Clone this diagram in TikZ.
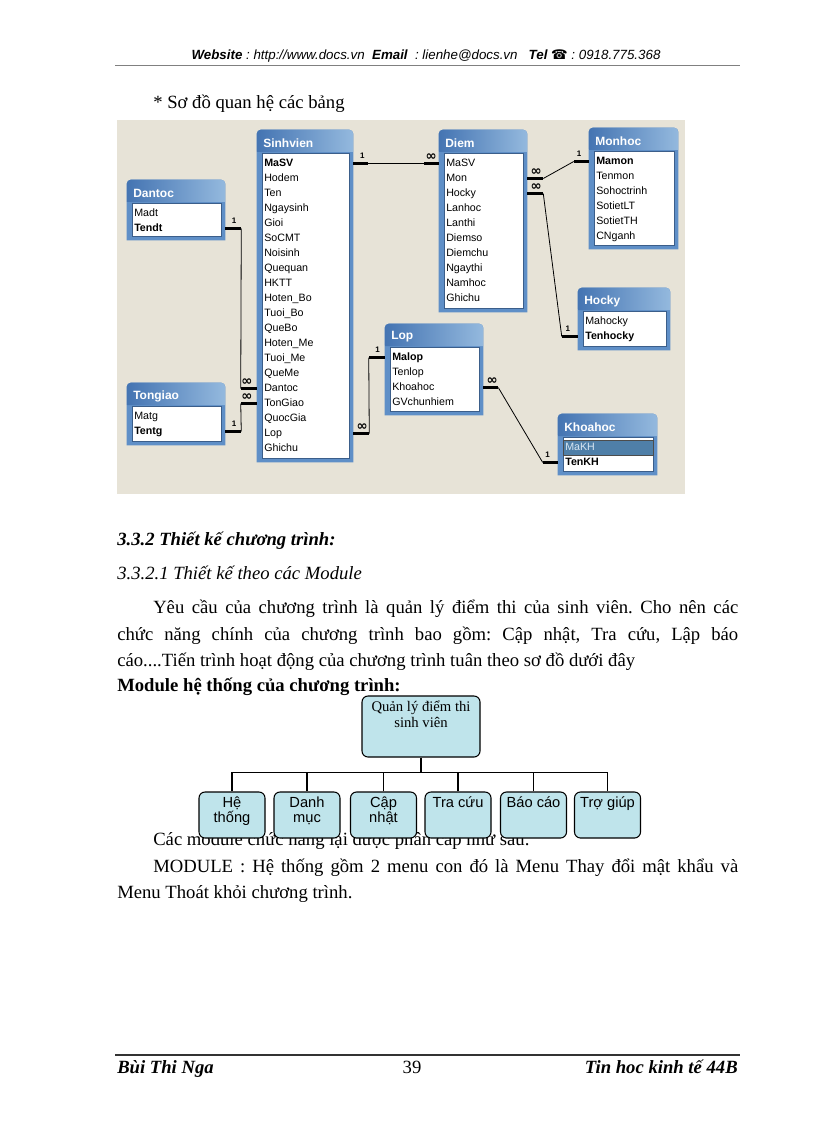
\documentclass[tikz,border=0pt]{standalone}
\usepackage{fontspec}
\setmainfont{Liberation Serif}
\newfontfamily\arial{Liberation Sans}
\newfontfamily\dejavu{DejaVu Sans}
\usetikzlibrary{fit}
\frenchspacing
\definecolor{erbg}{HTML}{E7E3D7}
\definecolor{tframe}{HTML}{5F8FC7}
\definecolor{ttl}{HTML}{4474B2}
\definecolor{ttr}{HTML}{94B9DE}
\definecolor{wborder}{HTML}{3B5E8A}
\definecolor{hlfill}{HTML}{4F7FA8}
\definecolor{hltext}{HTML}{D8E6F2}
\definecolor{modfill}{HTML}{BFE4EB}
\tikzset{
  field/.style={anchor=west, inner sep=0pt, text height=6pt, text depth=1.5pt, font=\arial\fontsize{8}{9}\selectfont},
  ttitle/.style={anchor=west, inner sep=0pt, text=white, font=\arial\bfseries\fontsize{9}{10}\selectfont},
  stub/.style={line width=1.8pt},
  conn/.style={line width=0.6pt},
  onelab/.style={above, inner sep=2.5pt, font=\arial\bfseries\fontsize{6}{6}\selectfont},
  manylab/.style={above, inner sep=1.2pt, font=\dejavu\bfseries\fontsize{10}{10}\selectfont},
  bodytxt/.style={anchor=base west, inner sep=0pt, font=\fontsize{14}{16}\selectfont},
  modbox/.style={draw=black, line width=0.8pt, fill=modfill, rounded corners=4.5pt, inner sep=0pt},
  tree/.style={line width=0.8pt},
  hdr/.style={anchor=base, inner sep=0pt, font=\arial\itshape\fontsize{10}{12}\selectfont},
  foot/.style={inner sep=0pt, font=\bfseries\itshape\fontsize{14}{16}\selectfont},
}
\newcommand\rootfont{\fontsize{11}{12}\selectfont}
\newcommand\childfont{\arial\fontsize{11}{11.25}\selectfont}
\newcommand\ertablebox[6]{%
  \node[fit={(#2,#3) (#4,#5)}, inner sep=0pt] (#1) {};
  \fill[tframe] (#1.south west) [rounded corners=3pt] -- (#1.north west) -- (#1.north east) [sharp corners] -- (#1.south east) -- cycle;
  \shade[left color=ttl, right color=ttr] ({#2},{#3+22}) [rounded corners=3pt] -- (#1.north west) -- (#1.north east) [sharp corners] -- ({#4},{#3+22}) -- cycle;
  \filldraw[fill=white, draw=wborder, line width=0.6pt] ({#2+5},{#3+23}) rectangle ({#4-4},{#5-4});
  \node[ttitle] (#1-t) at ({#2+6},{#3+13}) {#6};
}
\newcommand\erfields[4]{%
  \foreach \f [count=\i from 0] in {#4} {\node[field] (#1-\i) at ({#2+7},{#3+33.5+15*\i}) {\f};}
}
\begin{document}
\begin{tikzpicture}[x=0.75pt,y=-0.75pt]
\useasboundingbox (0,0) rectangle (816,1123);
\fill[white] (0,0) rectangle (816,1123);

% header
\node[hdr] (hdr) at (426,60) {\textbf{Website} : http://www.docs.vn \ \textbf{Email} \ : lienhe@docs.vn \ \ \textbf{Tel} {\dejavu\upshape\mdseries ☎} : 0918.775.368};
\draw[gray, line width=0.6pt] (115,65) -- (740,65);

\node[bodytxt] (sec) at (153,109) {* Sơ đồ quan hệ các bảng};

% ER diagram
\fill[erbg] (117,120) rectangle (685,494);

\ertablebox{sv}{257}{130}{353}{462}{Sinhvien}
\erfields{sv}{257}{130}{\textbf{MaSV},Hodem,Ten,Ngaysinh,Gioi,SoCMT,Noisinh,Quequan,HKTT,Hoten\_Bo,Tuoi\_Bo,QueBo,Hoten\_Me,Tuoi\_Me,QueMe,Dantoc,TonGiao,QuocGia,Lop,Ghichu}
\ertablebox{dt}{127}{180}{225}{240}{Dantoc}
\erfields{dt}{127}{180}{Madt,\textbf{Tendt}}
\ertablebox{tg}{127}{383}{225}{445}{Tongiao}
\erfields{tg}{127}{383}{Matg,\textbf{Tentg}}
\ertablebox{dm}{439}{130}{527}{312}{Diem}
\erfields{dm}{439}{130}{MaSV,Mon,Hocky,Lanhoc,Lanthi,Diemso,Diemchu,Ngaythi,Namhoc,Ghichu}
\ertablebox{mh}{589}{128}{678}{249}{Monhoc}
\erfields{mh}{589}{128}{\textbf{Mamon},Tenmon,Sohoctrinh,SotietLT,SotietTH,CNganh}
\ertablebox{hk}{578}{288}{670}{350}{Hocky}
\erfields{hk}{578}{288}{Mahocky,\textbf{Tenhocky}}
\ertablebox{lp}{385}{324}{483}{415}{Lop}
\erfields{lp}{385}{324}{\textbf{Malop},Tenlop,Khoahoc,GVchunhiem}
\ertablebox{kh}{558}{414}{657}{475}{Khoahoc}
\filldraw[fill=hlfill, draw=black!70, line width=0.4pt] (563,440) rectangle (653,455);
\erfields{kh}{558}{414}{{\color{hltext}MaKH},\textbf{TenKH}}

% relations
% Sinhvien - Diem
\draw[stub] (sv.east |- sv-0) -- ++(15,0) coordinate (a1) node[onelab, pos=0.6] {1};
\draw[stub] (dm.west |- dm-0) -- ++(-15,0) coordinate (a2) node[manylab, pos=0.5] {∞};
\draw[conn] (a1) -- (a2);
% Dantoc - Sinhvien
\draw[stub] (dt.east |- dt-1) -- ++(16,0) coordinate (b1) node[onelab, pos=0.55] {1};
\draw[stub] (sv.west |- sv-15) -- ++(-16,0) coordinate (b2) node[manylab, pos=0.62] {∞};
\draw[conn] (b1) -- (b2);
% Tongiao - Sinhvien
\draw[stub] (tg.east |- tg-1) -- ++(16,0) coordinate (c1x) node[onelab, pos=0.55] {1};
\draw[stub] (sv.west |- sv-16) -- ++(-16,0) coordinate (c2x) node[manylab, pos=0.62] {∞};
\draw[conn] (c1x) -- (c2x);
% Sinhvien - Lop
\draw[stub] (sv.east |- sv-18) -- ++(16,0) coordinate (d1) node[manylab, pos=0.55] {∞};
\draw[stub] (lp.west |- lp-0) -- ++(-16,0) coordinate (d2) node[onelab, pos=0.45] {1};
\draw[conn] (d1) -- (d2);
% Diem - Monhoc
\draw[stub] (dm.east |- dm-1) -- ++(16,0) coordinate (e1) node[manylab, pos=0.55] {∞};
\draw[stub] (mh.west |- mh-0) -- ++(-15,0) coordinate (e2) node[onelab, pos=0.65] {1};
\draw[conn] (e1) -- (e2);
% Diem - Hocky
\draw[stub] (dm.east |- dm-2) -- ++(16,0) coordinate (f1) node[manylab, pos=0.55] {∞};
\draw[stub] (hk.west |- hk-1) -- ++(-16,0) coordinate (f2) node[onelab, pos=0.62] {1};
\draw[conn] (f1) -- (f2);
% Lop - Khoahoc
\draw[stub] (lp.east |- lp-2) -- ++(15,0) coordinate (g1) node[manylab, pos=0.6] {∞};
\draw[stub] (kh.west |- kh-1) -- ++(-15,0) coordinate (g2) node[onelab, pos=0.67] {1};
\draw[conn] (g1) -- (g2);

% body text
\node[bodytxt] (h332) at (117,545) {\bfseries\itshape 3.3.2 Thiết kế chương trình:};
\node[bodytxt] (h3321) at (117,579) {\itshape 3.3.2.1 Thiết kế theo các Module};
\node[bodytxt] (l1) at (153,613) {\hbox to 438.75pt{Yêu cầu của chương trình là quản lý điểm thi của sinh viên. Cho nên các}};
\node[bodytxt] (l2) at (117,640) {\hbox to 465.75pt{chức năng chính của chương trình bao gồm: Cập nhật, Tra cứu, Lập báo}};
\node[bodytxt] (l3) at (117,666) {cáo....Tiến trình hoạt động của chương trình tuân theo sơ đồ dưới đây};
\node[bodytxt] (mh1) at (117,691) {\bfseries Module hệ thống của chương trình:};
\node[bodytxt] (cm) at (153,845) {Các module chức năng lại được phân cấp như sau.};
\node[bodytxt] (m1) at (153,872) {\hbox to 438.75pt{MODULE : Hệ thống gồm 2 menu con đó là Menu Thay đổi mật khẩu và}};
\node[bodytxt] (m2) at (117,898) {Menu Thoát khỏi chương trình.};

% module tree
\node[modbox] (root) at (421,726.5) {\parbox[c][45.75pt][t]{88.5pt}{\centering\rootfont\rule{0pt}{11.25pt}Quản lý điểm thi\\sinh viên}};
\node[modbox] (c1) at (232,815) {\parbox[c][34.5pt][t]{49.5pt}{\centering\childfont\rule{0pt}{11.25pt}Hệ\\thống}};
\node[modbox] (c2) at (307,815) {\parbox[c][34.5pt][t]{49.5pt}{\centering\childfont\rule{0pt}{11.25pt}Danh\\mục}};
\node[modbox] (c3) at (383.5,815) {\parbox[c][34.5pt][t]{49.5pt}{\centering\childfont\rule{0pt}{11.25pt}Cập\\nhật}};
\node[modbox] (c4) at (458,815) {\parbox[c][34.5pt][t]{49.5pt}{\centering\childfont\rule{0pt}{11.25pt}Tra cứu}};
\node[modbox] (c5) at (533.5,815) {\parbox[c][34.5pt][t]{49.5pt}{\centering\childfont\rule{0pt}{11.25pt}Báo cáo}};
\node[modbox] (c6) at (607.5,815) {\parbox[c][34.5pt][t]{49.5pt}{\centering\childfont\rule{0pt}{11.25pt}Trợ giúp}};
\draw[tree] (root.south) -- ++(0,15) coordinate (bus);
\draw[tree] (c1.north) -- (c1.north |- bus) -- (c6.north |- bus) -- (c6.north);
\foreach \c in {c2,c3,c4,c5} \draw[tree] (\c.north) -- (\c.north |- bus);

% footer
\draw[black!80, line width=0.8pt] (115,1055) -- (740,1055);
\node[foot, anchor=base west] (f1) at (117,1073) {Bùi Thi Nga};
\node[inner sep=0pt, anchor=base, font=\fontsize{14}{16}\selectfont] (f2) at (412,1073) {39};
\node[foot, anchor=base east] (f3) at (738,1073) {Tin hoc kinh tế 44B};
\end{tikzpicture}
\end{document}
